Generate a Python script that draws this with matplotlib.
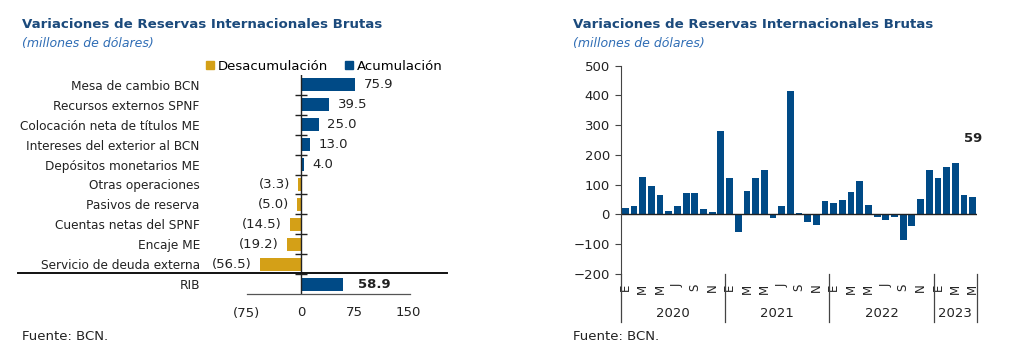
import numpy as np
import matplotlib
matplotlib.use("Agg")
import matplotlib.pyplot as plt
from matplotlib.patches import Patch
from matplotlib.transforms import blended_transform_factory

# datos panel izquierdo
categorias = [
    "Mesa de cambio BCN",
    "Recursos externos SPNF",
    "Colocación neta de títulos ME",
    "Intereses del exterior al BCN",
    "Depósitos monetarios ME",
    "Otras operaciones",
    "Pasivos de reserva",
    "Cuentas netas del SPNF",
    "Encaje ME",
    "Servicio de deuda externa",
    "RIB",
]
valores = [75.9, 39.5, 25.0, 13.0, 4.0, -3.3, -5.0, -14.5, -19.2, -56.5, 58.9]
xticks_izq = [-75, 0, 75, 150]
xticklabels_izq = ["(75)", "0", "75", "150"]

# datos panel derecho (ene-2020 a may-2023)
anios = ["2020", "2021", "2022", "2023"]
meses_por_anio = [12, 12, 12, 5]
variaciones = [
    22, 27, 126, 96, 65, 12, 29, 71, 71, 18, 9, 279,
    123, -59, 78, 123, 150, -14, 27, 416, 4, -25, -35, 45,
    38, 48, 75, 112, 31, -9, -18, -9, -86, -41, 53, 150,
    123, 159, 172, 65, 59,
]
letras_mes = ["E", "F", "M", "A", "M", "J", "J", "A", "S", "O", "N", "D"]

AZUL = "#004a86"
ORO = "#d4a017"
TITULO = "#1b4a7c"
SUBT = "#2f6db5"

plt.rcParams["font.family"] = ["DejaVu Sans"]

fig = plt.figure(figsize=(10.17, 3.6), dpi=100)
W, H = 1017.0, 360.0


def fx(px):
    return px / W


def fy(py):
    return 1 - py / H


# ---- títulos
for x0 in (22, 573):
    fig.text(fx(x0), fy(24), "Variaciones de Reservas Internacionales Brutas",
             fontsize=9.6, fontweight="bold", color=TITULO, va="center")
    fig.text(fx(x0), fy(44), "(millones de dólares)", fontsize=9,
             style="italic", color=SUBT, va="center")
    fig.text(fx(x0), fy(337), "Fuente: BCN.", fontsize=9.5, color="#222222",
             va="center")

# ---- panel izquierdo
ax1 = fig.add_axes([fx(247), fy(294), fx(410 - 247), (294 - 75) / H])
y = np.arange(len(categorias))
colores = [AZUL if v >= 0 else ORO for v in valores]
ax1.barh(y, valores, height=0.65, color=colores)
ax1.set_ylim(len(categorias) - 0.5, -0.5)
ax1.set_xlim(-75, 152)
ax1.set_yticks(y)
ax1.set_yticklabels(categorias, fontsize=8.7, color="#222222")
ax1.tick_params(axis="y", length=0, pad=34)
ax1.set_xticks(xticks_izq)
ax1.set_xticklabels(xticklabels_izq, fontsize=9.5, color="#222222")
ax1.tick_params(axis="x", length=0, pad=9)
for s in ("top", "right", "left"):
    ax1.spines[s].set_visible(False)
ax1.spines["bottom"].set_color("#555555")
ax1.spines["bottom"].set_linewidth(0.9)
ax1.axvline(0, color="#222222", lw=1.0)
ax1.plot(np.zeros(len(categorias) - 1), y[:-1] + 0.5, "_", color="#222222",
         ms=8, mew=1.0)

for i, v in enumerate(valores):
    if i == len(valores) - 1:
        ax1.annotate(f"{v:.1f}", (v, i), xytext=(11, 0), textcoords="offset points",
                     va="center", ha="left", fontsize=9.5, fontweight="bold",
                     color="#222222")
    elif v >= 0:
        ax1.annotate(f"{v:.1f}", (v, i), xytext=(6, 0), textcoords="offset points",
                     va="center", ha="left", fontsize=9.5, color="#222222")
    else:
        ax1.annotate(f"({abs(v):.1f})", (v, i), xytext=(-6, 0),
                     textcoords="offset points", va="center", ha="right",
                     fontsize=9.5, color="#222222")

# línea separadora sobre RIB
tr = blended_transform_factory(fig.transFigure, ax1.transData)
ax1.plot([fx(18), fx(447)], [9.45, 9.45], color="#111111", lw=1.4,
         transform=tr, clip_on=False)

handles = [Patch(color=ORO, label="Desacumulación"),
           Patch(color=AZUL, label="Acumulación")]
fig.legend(handles=handles, loc="center right", bbox_to_anchor=(fx(443), fy(66)),
           ncol=2, frameon=False, fontsize=9.5, handlelength=0.6, handleheight=0.6,
           handletextpad=0.3, columnspacing=1.3, borderaxespad=0, borderpad=0)

# ---- panel derecho
ax2 = fig.add_axes([fx(621), fy(273.7), fx(977 - 621), (273.7 - 65.7) / H])
n = len(variaciones)
idx = np.arange(n)
ax2.bar(idx, variaciones, width=0.78, color=AZUL)
ax2.set_xlim(-0.5, n - 0.5)
ax2.set_ylim(-200, 500)
ax2.set_yticks(np.arange(-200, 501, 100))
ax2.tick_params(axis="y", labelsize=9.5, labelcolor="#222222", length=4,
                color="#444444", pad=4)
ax2.axhline(0, color="#222222", lw=1.0)
for s in ("top", "right", "bottom"):
    ax2.spines[s].set_visible(False)
ax2.spines["left"].set_color("#444444")

meses = []
for k in meses_por_anio:
    meses += letras_mes[:k]
ax2.set_xticks(idx[::2])
ax2.set_xticklabels(meses[::2], rotation=90, fontsize=8.5, color="#222222")
ax2.tick_params(axis="x", length=0, pad=7)

trx = blended_transform_factory(ax2.transData, ax2.transAxes)
limites = np.concatenate([[0], np.cumsum(meses_por_anio)]) - 0.5
ax2.plot([limites[0]] * 2, [0, -0.23], color="#444444", lw=0.9,
         transform=trx, clip_on=False)
for b in limites[1:]:
    ax2.plot([b, b], [0, -0.23], color="#444444", lw=0.9,
             transform=trx, clip_on=False)
for a, b, lab in zip(limites[:-1], limites[1:], anios):
    ax2.text((a + b) / 2, -0.19, lab, transform=trx, ha="center", va="center",
             fontsize=9.5, color="#222222")

ax2.annotate(f"{variaciones[-1]}", (idx[-1], variaciones[-1]), xytext=(0, 42),
             textcoords="offset points", ha="center", va="center", fontsize=9.5,
             fontweight="bold", color="#222222")

fig.savefig("out.png", dpi=100)
